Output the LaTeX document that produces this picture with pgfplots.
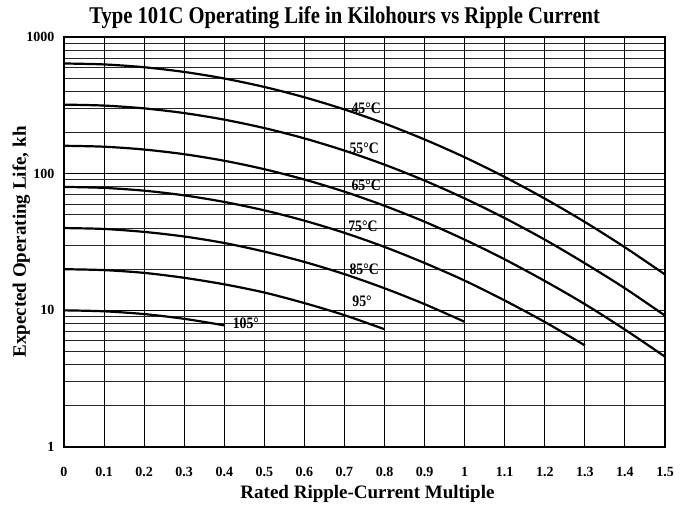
\documentclass[border=0pt]{standalone}
\usepackage{fontspec}
\setmainfont{Liberation Serif}
\newfontfamily\condfont{Liberation Serif}[FakeStretch=0.86]
\usepackage{pgfplots}
\pgfplotsset{compat=1.18}
\pgfplotsset{curve/.style={black, line width=2.2pt, smooth, mark=none}}
\begin{document}
\begin{tikzpicture}
\begin{axis}[
  scale only axis, width=601pt, height=410pt,
  ymode=log, xmin=0, xmax=1.5, ymin=1, ymax=1000,
  xtick={0,0.1,0.2,0.3,0.4,0.5,0.6,0.7,0.8,0.9,1,1.1,1.2,1.3,1.4,1.5},
  xticklabels={0,0.1,0.2,0.3,0.4,0.5,0.6,0.7,0.8,0.9,1,1.1,1.2,1.3,1.4,1.5},
  ytick={1,10,100,1000}, yticklabels={1,10,100,1000},
  grid=both,
  major grid style={black, line width=1.1pt},
  minor grid style={black!85, line width=0.9pt},
  tick style={draw=none},
  axis line style={line width=1.5pt},
  /pgf/number format/assume math mode=true,
  ticklabel style={font=\fontsize{14}{15}\selectfont\bfseries},
  xticklabel style={anchor=center, yshift=-25pt},
  yticklabel style={anchor=east, xshift=-6pt},
  xlabel={Rated Ripple-Current Multiple},
  xlabel style={font=\fontsize{19}{20}\selectfont\bfseries, at={(axis description cs:0.505,-0.115)}, anchor=center},
  ylabel={Expected Operating Life, kh},
  ylabel style={font=\fontsize{19}{20}\selectfont\bfseries, at={(axis description cs:-0.071,0.5)}, anchor=center},
  title={Type 101C Operating Life in Kilohours vs Ripple Current},
  title style={font=\condfont\fontsize{24}{26}\selectfont\bfseries, at={(axis description cs:0.467,1.0)}, anchor=south, yshift=-1pt},
  clip=true,
]
\addplot[curve] coordinates {(0,640) (0.1,630.0) (0.2,600.8) (0.3,555.1) (0.4,497.0) (0.5,431.1) (0.6,362.3) (0.7,295.0) (0.8,232.8) (0.9,177.9) (1.0,131.8) (1.1,94.5) (1.2,65.7) (1.3,44.3) (1.4,28.9) (1.5,18.3)};
\addplot[curve] coordinates {(0,320) (0.1,315.0) (0.2,300.4) (0.3,277.6) (0.4,248.5) (0.5,215.6) (0.6,181.2) (0.7,147.5) (0.8,116.4) (0.9,89.0) (1.0,65.9) (1.1,47.3) (1.2,32.9) (1.3,22.1) (1.4,14.5) (1.5,9.15)};
\addplot[curve] coordinates {(0,160) (0.1,157.5) (0.2,150.2) (0.3,138.8) (0.4,124.3) (0.5,107.8) (0.6,90.6) (0.7,73.8) (0.8,58.2) (0.9,44.5) (1.0,32.9) (1.1,23.6) (1.2,16.4) (1.3,11.1) (1.4,7.23) (1.5,4.58)};
\addplot[curve] coordinates {(0,80) (0.1,78.7) (0.2,75.1) (0.3,69.4) (0.4,62.1) (0.5,53.9) (0.6,45.3) (0.7,36.9) (0.8,29.1) (0.9,22.2) (1.0,16.5) (1.1,11.8) (1.2,8.22) (1.3,5.54)};
\addplot[curve] coordinates {(0,40) (0.1,39.4) (0.2,37.5) (0.3,34.7) (0.4,31.1) (0.5,26.9) (0.6,22.6) (0.7,18.4) (0.8,14.5) (0.9,11.1) (1.0,8.24)};
\addplot[curve] coordinates {(0,20) (0.1,19.7) (0.2,18.8) (0.3,17.3) (0.4,15.5) (0.5,13.5) (0.6,11.3) (0.7,9.22) (0.8,7.27)};
\addplot[curve] coordinates {(0,10) (0.1,9.84) (0.2,9.39) (0.3,8.67) (0.4,7.77)};
\begin{scope}[every node/.style={font=\condfont\fontsize{16}{17}\selectfont\bfseries, inner sep=0pt}]
\node at (axis cs:0.754,303) {45°C};
\node at (axis cs:0.749,154) {55°C};
\node at (axis cs:0.754,82.6) {65°C};
\node at (axis cs:0.746,41.4) {75°C};
\node at (axis cs:0.749,20.1) {85°C};
\node at (axis cs:0.744,11.7) {95°};
\node at (axis cs:0.454,8.1) {105°};
\end{scope}
\end{axis}
\path ([shift={(-64pt,-63pt)}]current axis.south west) rectangle ([shift={(19pt,37pt)}]current axis.north east);
\end{tikzpicture}
\end{document}
